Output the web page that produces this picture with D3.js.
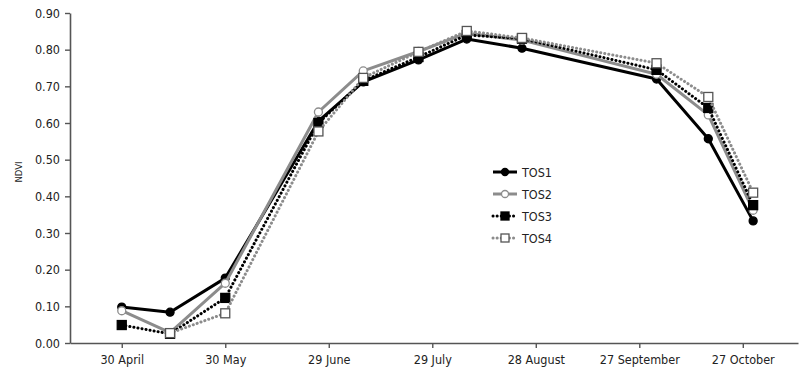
<!DOCTYPE html>
<html>
<head>
<meta charset="utf-8">
<script src="https://cdn.jsdelivr.net/npm/d3@7"></script>
<style>
  body { margin: 0; background: #fff; }
  text { font-family: "Liberation Sans Narrow", "DejaVu Sans Condensed", "Arial Narrow", sans-serif; font-stretch: condensed; }
</style>
</head>
<body>
<div id="chart"></div>
<script>
(function () {

  // sampling dates and NDVI per time of sowing
  var dates = ['2013-04-30', '2013-05-14', '2013-05-30', '2013-06-26', '2013-07-09', '2013-07-25',
               '2013-08-08', '2013-08-24', '2013-10-02', '2013-10-17', '2013-10-30']
  var tos1 = [0.098, 0.084, 0.177, 0.605, 0.712, 0.772, 0.829, 0.804, 0.720, 0.557, 0.333]
  var tos2 = [0.088, 0.028, 0.163, 0.630, 0.742, 0.795, 0.845, 0.826, 0.733, 0.622, 0.362]
  var tos3 = [0.049, 0.025, 0.123, 0.600, 0.715, 0.780, 0.840, 0.830, 0.745, 0.641, 0.376]
  var tos4 = [null,  0.027, 0.081, 0.577, 0.723, 0.794, 0.851, 0.832, 0.763, 0.671, 0.410]

  var tickDates = ['2013-04-30', '2013-05-30', '2013-06-29', '2013-07-29', '2013-08-28', '2013-09-27', '2013-10-27']
  var yTicks = [0, 0.1, 0.2, 0.3, 0.4, 0.5, 0.6, 0.7, 0.8, 0.9]

  var parse = d3.timeParse('%Y-%m-%d')

  var series = [
    { name: 'TOS1', values: tos1, color: '#000', width: 3, dash: null, marker: 'circle', fill: '#000', stroke: '#000' },
    { name: 'TOS2', values: tos2, color: '#8c8c8c', width: 3, dash: null, marker: 'circle', fill: '#fff', stroke: '#8c8c8c' },
    { name: 'TOS3', values: tos3, color: '#000', width: 3, dash: '0.1 4', marker: 'square', fill: '#000', stroke: '#000' },
    { name: 'TOS4', values: tos4, color: '#8c8c8c', width: 3, dash: '0.1 4', marker: 'square', fill: '#fff', stroke: '#555' }
  ]

  var svg = d3.select('#chart').append('svg')
    .attr('width', 800)
    .attr('height', 375)

  var xPositionScale = d3.scaleTime()
    .domain([parse('2013-04-15'), parse('2013-11-12')])
    .range([70, 798])

  var yPositionScale = d3.scaleLinear()
    .domain([0, 0.9])
    .range([343, 13])

  // axes
  var yAxis = d3.axisLeft(yPositionScale)
    .tickValues(yTicks)
    .tickFormat(d3.format('.2f'))
    .tickSize(5)
    .tickSizeOuter(0)
  var yG = svg.append('g')
    .attr('transform', 'translate(70,0)')
    .call(yAxis)

  var xAxis = d3.axisBottom(xPositionScale)
    .tickValues(tickDates.map(parse))
    .tickFormat(d3.timeFormat('%-d %B'))
    .tickSize(5)
    .tickSizeOuter(0)
  var xG = svg.append('g')
    .attr('transform', 'translate(0,343)')
    .call(xAxis)

  svg.selectAll('.domain').attr('stroke', '#555').attr('stroke-width', 1.6)
  svg.selectAll('.tick line').attr('stroke', '#555').attr('stroke-width', 1.4)
  yG.selectAll('.tick text').attr('font-size', 12.5).attr('fill', '#222').attr('x', -10)
  xG.selectAll('.tick text').attr('font-size', 12.5).attr('fill', '#222').attr('dy', '1.05em')

  svg.append('text')
    .attr('transform', 'translate(22,172) rotate(-90)')
    .attr('text-anchor', 'middle')
    .attr('font-size', 9.5)
    .attr('fill', '#222')
    .text('NDVI')

  var line = d3.line()
    .defined(function (d) { return d.v !== null })
    .x(function (d) { return xPositionScale(d.date) })
    .y(function (d) { return yPositionScale(d.v) })

  series.forEach(function (s) {
    var pts = dates.map(function (d, i) { return { date: parse(d), v: s.values[i] } })
    var g = svg.append('g')
    g.append('path')
      .datum(pts)
      .attr('d', line)
      .attr('fill', 'none')
      .attr('stroke', s.color)
      .attr('stroke-width', s.width)
      .attr('stroke-linecap', s.dash ? 'round' : 'butt')
      .attr('stroke-linejoin', 'round')
      .attr('stroke-dasharray', s.dash)

    var valid = pts.filter(function (d) { return d.v !== null })
    if (s.marker === 'circle') {
      g.selectAll('circle').data(valid).enter().append('circle')
        .attr('cx', function (d) { return xPositionScale(d.date) })
        .attr('cy', function (d) { return yPositionScale(d.v) })
        .attr('r', 4)
        .attr('fill', s.fill)
        .attr('stroke', s.stroke)
        .attr('stroke-width', 1.3)
    } else {
      g.selectAll('rect').data(valid).enter().append('rect')
        .attr('x', function (d) { return xPositionScale(d.date) - 4.5 })
        .attr('y', function (d) { return yPositionScale(d.v) - 4.5 })
        .attr('width', 9)
        .attr('height', 9)
        .attr('fill', s.fill)
        .attr('stroke', s.stroke)
        .attr('stroke-width', 1.3)
    }
  })

  // legend
  var legend = svg.append('g').attr('transform', 'translate(492,172)')
  series.forEach(function (s, i) {
    var row = legend.append('g').attr('transform', 'translate(0,' + (i * 22) + ')')
    row.append('line')
      .attr('x1', 1).attr('x2', 25)
      .attr('stroke', s.color)
      .attr('stroke-width', s.width)
      .attr('stroke-linecap', s.dash ? 'round' : 'butt')
      .attr('stroke-dasharray', s.dash)
    if (s.marker === 'circle') {
      row.append('circle').attr('cx', 13).attr('r', 3.5)
        .attr('fill', s.fill).attr('stroke', s.stroke).attr('stroke-width', 1.3)
    } else {
      row.append('rect').attr('x', 9).attr('y', -4).attr('width', 8).attr('height', 8)
        .attr('fill', s.fill).attr('stroke', s.stroke).attr('stroke-width', 1.3)
    }
    row.append('text')
      .attr('x', 30)
      .attr('dy', '0.36em')
      .attr('font-size', 12.5)
      .attr('fill', '#222')
      .text(s.name)
  })

})()
</script>
</body>
</html>
